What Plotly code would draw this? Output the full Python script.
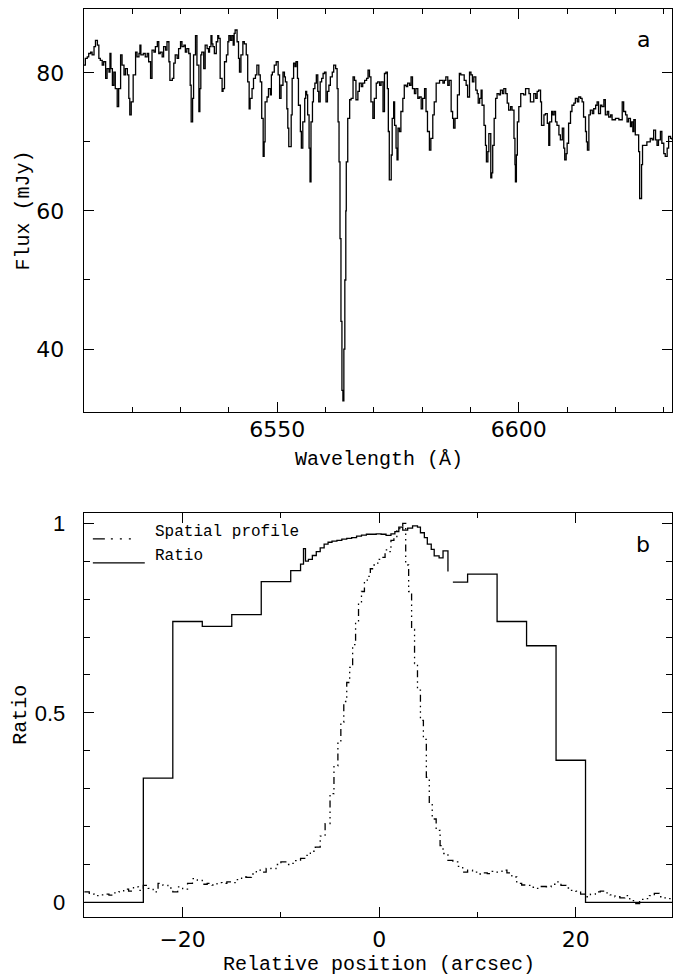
import plotly.graph_objects as go

# ---------------- Panel a: spectrum ----------------
wavelength = [
    6510.0, 6510.3, 6510.7, 6511.0, 6511.4, 6511.7, 6512.1, 6512.4, 6512.8, 6513.1,
    6513.4, 6513.8, 6514.1, 6514.5, 6514.8, 6515.2, 6515.4, 6515.6, 6515.9, 6516.2,
    6516.5, 6516.9, 6517.2, 6517.6, 6517.9, 6518.3, 6518.6, 6519.0, 6519.3, 6519.5,
    6519.8, 6520.2, 6520.7, 6521.0, 6521.4, 6521.6, 6521.8, 6522.3, 6522.7, 6523.1,
    6523.4, 6523.8, 6524.1, 6524.5, 6524.8, 6525.2, 6525.5, 6525.8, 6526.2, 6526.5,
    6526.9, 6527.2, 6527.6, 6527.8, 6528.3, 6528.6, 6528.9, 6529.3, 6529.6, 6530.0,
    6530.3, 6530.7, 6531.0, 6531.3, 6531.7, 6532.0, 6532.2, 6532.5, 6532.7, 6533.1,
    6533.4, 6533.8, 6534.0, 6534.2, 6534.4, 6534.8, 6535.1, 6535.5, 6535.8, 6536.0,
    6536.3, 6536.5, 6536.7, 6537.0, 6537.4, 6537.7, 6537.9, 6538.2, 6538.6, 6538.8,
    6539.1, 6539.5, 6539.8, 6540.0, 6540.3, 6540.6, 6540.9, 6541.1, 6541.3, 6541.7,
    6542.0, 6542.2, 6542.5, 6542.9, 6543.2, 6543.6, 6543.9, 6544.2, 6544.4, 6544.8,
    6545.1, 6545.5, 6545.8, 6546.2, 6546.5, 6546.8, 6547.1, 6547.3, 6547.5, 6547.9,
    6548.2, 6548.6, 6548.8, 6549.0, 6549.4, 6549.8, 6550.2, 6550.5,
    6550.8, 6551.2, 6551.5, 6551.7, 6552.0, 6552.2, 6552.4, 6552.7, 6552.9, 6553.1,
    6553.4, 6553.7, 6553.9, 6554.2, 6554.4, 6554.8, 6555.0, 6555.3, 6555.7, 6555.9,
    6556.1, 6556.3, 6556.6, 6556.8, 6557.0, 6557.3, 6557.5, 6557.8, 6558.1, 6558.4,
    6558.6, 6558.9, 6559.2, 6559.5, 6559.8, 6560.1, 6560.4, 6560.7, 6561.0, 6561.4,
    6561.7, 6562.1, 6562.4, 6562.6, 6562.8, 6563.0, 6563.2, 6563.4, 6563.6, 6563.8,
    6564.0, 6564.2, 6564.3, 6564.6, 6565.0, 6565.3, 6565.7, 6566.0, 6566.3, 6566.7,
    6567.0, 6567.4, 6567.7, 6568.1, 6568.5, 6568.8, 6569.1, 6569.4, 6569.8, 6570.1,
    6570.5, 6570.8, 6571.2, 6571.5, 6571.9, 6572.2, 6572.5, 6572.8, 6573.0, 6573.2,
    6573.6, 6573.8, 6574.1, 6574.3, 6574.6, 6574.8, 6575.0, 6575.3, 6575.6, 6576.0,
    6576.3, 6576.7, 6577.0, 6577.4, 6577.7, 6578.0, 6578.4, 6578.7, 6579.1, 6579.4,
    6579.8, 6580.1, 6580.5, 6580.8, 6581.1, 6581.5, 6581.8, 6582.2, 6582.5, 6582.9,
    6583.2, 6583.6, 6583.9, 6584.3, 6584.6, 6584.9, 6585.3, 6585.6, 6586.0, 6586.3,
    6586.5, 6586.8, 6587.3, 6587.7, 6588.0, 6588.4, 6588.7, 6589.1, 6589.4, 6589.8,
    6590.1, 6590.4,
    6590.7, 6591.1, 6591.4, 6591.6, 6591.9, 6592.2, 6592.4, 6592.8, 6593.1, 6593.3,
    6593.6, 6593.8, 6594.2, 6594.4, 6594.6, 6594.9, 6595.2, 6595.5, 6595.9, 6596.2,
    6596.6, 6596.9, 6597.3, 6597.6, 6597.9, 6598.3, 6598.6, 6599.0, 6599.2, 6599.3,
    6599.5, 6599.7, 6600.0, 6600.4, 6600.7, 6601.0, 6601.4, 6601.7, 6602.1, 6602.4,
    6602.8, 6603.1, 6603.5, 6603.8, 6604.1, 6604.5, 6604.7, 6605.0, 6605.2, 6605.5,
    6605.9, 6606.2, 6606.4, 6606.8, 6607.0, 6607.3, 6607.6, 6607.9, 6608.3, 6608.6,
    6609.0, 6609.3, 6609.5, 6609.8, 6610.0, 6610.3, 6610.7, 6611.0, 6611.4, 6611.7,
    6612.1, 6612.4, 6612.8, 6613.1, 6613.4, 6613.8, 6614.0, 6614.2, 6614.5, 6614.8,
    6615.2, 6615.5, 6615.9, 6616.2, 6616.5, 6616.9, 6617.2, 6617.6, 6617.9, 6618.3,
    6618.6, 6619.0, 6619.3, 6619.6, 6620.0, 6620.7, 6621.0, 6621.4, 6621.7, 6622.1,
    6622.4, 6622.7, 6623.1, 6623.3, 6623.6, 6623.8, 6624.1, 6624.5, 6624.8, 6625.0,
    6625.4, 6625.6, 6626.2, 6626.5, 6626.9, 6627.2, 6627.6, 6627.9, 6628.3, 6628.6,
    6628.9, 6629.3, 6629.6, 6630.0, 6630.3, 6630.7, 6631.0, 6631.4, 6631.7,
]
flux = [
    81.1, 82.1, 82.3, 82.8, 83.0, 82.6, 83.8, 84.7, 84.0, 82.1,
    81.8, 81.1, 81.6, 79.2, 80.6, 80.1, 82.8, 80.6, 78.2, 80.1,
    77.7, 75.1, 77.7, 82.6, 81.1, 79.7, 80.6, 79.7, 76.3, 73.9,
    75.8, 79.7, 83.0, 82.3, 82.8, 84.0, 82.6, 82.8, 82.3, 82.8,
    81.6, 79.2, 83.3, 83.0, 83.8, 84.5, 82.8, 83.0, 82.3, 83.8,
    83.3, 84.5, 81.6, 78.9, 79.2, 81.4, 82.6, 82.1, 83.5, 84.5,
    83.8, 84.0, 83.0, 83.5, 82.8, 78.2, 72.9, 76.3, 82.6, 85.4,
    81.1, 74.4, 77.7, 82.6, 83.0, 80.6, 84.0, 83.5, 83.0, 83.8,
    85.4, 84.2, 83.8, 82.8, 84.5, 85.4, 85.0, 79.2, 77.3, 77.7,
    81.6, 82.6, 84.5, 85.4, 84.7, 85.4, 84.0, 85.7, 86.2, 84.5,
    82.1, 80.1, 82.6, 84.5, 84.2, 82.6, 78.7, 74.8, 76.3, 77.7,
    79.2, 79.7, 81.1, 79.7, 78.7, 73.4, 67.9, 70.0, 75.8, 76.5,
    77.7, 76.8, 79.7, 80.1, 81.1, 81.6, 79.7, 76.3,
    78.2, 80.1, 79.4, 78.7, 74.8, 72.0, 69.3, 69.3, 73.9, 79.2,
    81.4, 80.9, 81.6, 79.2, 75.3, 71.5, 69.1, 72.9, 76.3, 77.3,
    76.8, 73.9, 69.1, 64.2, 72.9, 75.8, 77.7, 78.5, 79.7, 77.3,
    75.8, 78.7, 79.2, 79.9, 80.1, 75.8, 77.3, 78.2, 79.4, 80.1,
    81.1, 80.6, 77.7, 72.9, 67.1, 56.0, 44.0, 34.0, 32.5, 40.0,
    50.0, 60.0, 67.1, 73.4, 76.1, 76.3, 79.4, 78.9, 76.1, 77.3,
    78.5, 78.0, 78.5, 78.9, 79.2, 80.4, 79.4, 75.8, 73.4, 76.3,
    78.5, 78.7, 78.2, 78.7, 74.4, 79.9, 80.1, 77.7, 71.5, 64.5,
    68.1, 73.4, 75.8, 72.4, 69.1, 67.4, 72.0, 71.5, 74.4, 76.3,
    78.2, 78.0, 78.5, 78.2, 79.4, 77.7, 77.0, 77.7, 76.3, 76.5,
    74.8, 76.3, 77.7, 74.4, 71.5, 68.8, 70.5, 73.9, 75.8, 78.5,
    78.5, 78.9, 78.9, 78.5, 78.9, 79.4, 78.2, 78.9, 74.4, 73.4,
    72.0, 73.4, 76.8, 79.9, 79.7, 79.7, 78.9, 78.2, 76.5, 80.1,
    79.7, 78.7,
    79.4, 77.5, 77.0, 75.6, 76.3, 77.5, 75.3, 72.4, 69.5, 67.1,
    68.6, 71.2, 64.8, 65.5, 69.5, 73.4, 76.3, 77.0, 76.8, 77.5,
    77.0, 77.7, 77.0, 75.6, 74.6, 75.1, 74.6, 70.5, 66.7, 64.2,
    68.1, 72.9, 75.1, 77.0, 77.0, 76.8, 77.7, 77.7, 77.0, 75.8,
    75.8, 77.0, 76.3, 77.3, 77.5, 75.8, 72.4, 72.4, 73.9, 74.1,
    72.7, 69.5, 72.9, 74.4, 73.9, 74.4, 72.9, 72.4, 71.0, 70.3,
    72.0, 69.1, 67.4, 68.3, 69.8, 72.7, 74.4, 75.3, 75.6, 76.3,
    75.8, 76.5, 76.3, 75.8, 73.6, 71.5, 70.0, 68.8, 73.9, 74.6,
    74.1, 74.8, 75.3, 75.8, 74.1, 75.3, 75.1, 76.1, 73.9, 74.4,
    73.6, 73.9, 73.2, 73.2, 73.4, 73.2, 73.2, 75.8, 74.4, 73.9,
    72.9, 73.4, 72.2, 72.9, 71.5, 73.2, 71.0, 71.0, 68.6, 61.8,
    66.7, 69.5, 69.5, 70.0, 70.0, 70.5, 70.3, 71.7, 70.3, 69.5,
    70.3, 71.5, 69.8, 68.3, 67.9, 69.1, 70.8, 70.5, 70.3,
]

# ---------------- Panel b: spatial profile and ratio ----------------
profile_pos = [
    -30.0, -29.5, -29.0, -28.5, -28.0, -27.5, -27.0, -26.5, -26.0, -25.5,
    -25.0, -24.5, -24.0, -23.5, -23.0, -22.5, -22.0, -21.5, -21.0, -20.5,
    -20.0, -19.5, -19.0, -18.5, -18.0, -17.5, -17.0, -16.5, -16.0, -15.5,
    -15.0, -14.5, -14.0, -13.5, -13.0, -12.5, -12.0, -11.5, -11.0, -10.5,
    -10.0, -9.5, -9.0, -8.5, -8.0, -7.5, -7.0, -6.5, -6.0, -5.5,
    -5.0, -4.6, -4.2, -3.9, -3.6, -3.3, -3.0, -2.7, -2.4, -2.1,
    -1.8, -1.5, -1.2, -0.9, -0.6, -0.3, 0.0, 0.3, 0.6, 0.9,
    1.2, 1.5, 1.8, 2.1, 2.4, 2.7, 3.0, 3.3, 3.6, 3.9,
    4.2, 4.5, 4.8, 5.1, 5.4, 5.8, 6.2, 6.5, 7.0, 7.5,
    8.0, 8.5, 9.0, 9.5, 10.0, 10.5, 11.0, 11.5, 12.0, 12.5,
    13.0, 13.5, 14.0, 14.5, 15.0, 15.5, 16.0, 16.5, 17.0, 17.5,
    18.0, 18.5, 19.0, 19.5, 20.0, 20.5, 21.0, 21.5, 22.0, 22.5,
    23.0, 23.5, 24.0, 24.5, 25.0, 25.5, 26.0, 26.5, 27.0, 27.5,
    28.0, 28.5, 29.0, 29.5, 29.8,
]
profile = [
    0.028, 0.022, 0.018, 0.020, 0.022, 0.019, 0.025, 0.028, 0.035, 0.030,
    0.041, 0.032, 0.045, 0.037, 0.028, 0.050, 0.045, 0.038, 0.028, 0.041,
    0.035, 0.050, 0.063, 0.058, 0.048, 0.050, 0.046, 0.052, 0.050, 0.054,
    0.052, 0.060, 0.067, 0.066, 0.075, 0.085, 0.080, 0.090, 0.089, 0.100,
    0.107, 0.100, 0.103, 0.110, 0.116, 0.124, 0.135, 0.146, 0.175, 0.208,
    0.287, 0.360, 0.420, 0.475, 0.530, 0.580, 0.620, 0.680, 0.740, 0.790,
    0.820, 0.850, 0.860, 0.880, 0.890, 0.895, 0.905, 0.910, 0.930, 0.925,
    0.955, 0.965, 0.980, 0.990, 1.000, 0.890, 0.820, 0.720, 0.630, 0.560,
    0.480, 0.430, 0.330, 0.260, 0.220, 0.190, 0.150, 0.129, 0.111, 0.107,
    0.095, 0.080, 0.085, 0.080, 0.075, 0.078, 0.076, 0.082, 0.080, 0.085,
    0.078, 0.067, 0.050, 0.046, 0.045, 0.040, 0.037, 0.042, 0.041, 0.048,
    0.054, 0.045, 0.038, 0.032, 0.030, 0.022, 0.015, 0.022, 0.028, 0.030,
    0.025, 0.020, 0.015, 0.012, 0.018, 0.005, -0.003, 0.008, 0.010, 0.018,
    0.024, 0.015, 0.012, 0.010, 0.010,
]

ratio_pos = [
    -30.0, -24.0, -21.0, -18.0, -15.0, -12.0, -9.0, -8.0, -7.7, -7.5,
    -7.2, -6.8, -6.4, -6.0, -5.6, -5.2, -4.8, -4.3, -3.8, -3.3,
    -2.8, -2.3, -1.8, -1.3, -0.8, -0.3, 0.2, 0.7, 1.2, 1.6,
    2.0, 2.4, 2.9, 3.4, 3.9, 4.2, 4.6, 4.9, 5.3, 5.6,
    6.1, 6.5, 7.0, None, 7.5, 9.0, 12.0, 15.0, 18.0, 21.0, 29.8,
]
ratio = [
    0.0, 0.328, 0.741, 0.728, 0.759, 0.846, 0.875, 0.892, 0.933, 0.900,
    0.905, 0.915, 0.925, 0.935, 0.945, 0.950, 0.953, 0.955, 0.958, 0.960,
    0.962, 0.966, 0.969, 0.971, 0.971, 0.972, 0.971, 0.968, 0.972, 0.978,
    0.990, 0.982, 0.987, 0.993, 0.990, 0.975, 0.962, 0.945, 0.931, 0.914,
    0.909, 0.927, 0.873, None, 0.845, 0.866, 0.741, 0.677, 0.375, 0.0, 0.0,
]

# ---------------- figure ----------------
W, H = 673, 980
LEFT = 84
A_TOP, A_BOT = 7.3, 410.7
B_TOP, B_BOT = 511.7, 916.7
MONO = "Liberation Mono"
SANS = "DejaVu Sans"
SANS_NARROW = "Liberation Sans"


def px(x):
    return x / W


def py(y):
    return 1 - y / H


fig = go.Figure()
fig.add_trace(go.Scatter(
    x=wavelength, y=flux, mode="lines", showlegend=False,
    line=dict(color="black", width=1.3, shape="hv"),
    xaxis="x", yaxis="y"))
fig.add_trace(go.Scatter(
    x=profile_pos, y=profile, mode="lines", showlegend=False,
    line=dict(color="black", width=1.3, shape="hv",
              dash="7px,4px,1.5px,4px,1.5px,4px,1.5px,4px"),
    xaxis="x2", yaxis="y2"))
fig.add_trace(go.Scatter(
    x=ratio_pos, y=ratio, mode="lines", showlegend=False, connectgaps=False,
    line=dict(color="black", width=1.3, shape="hv"),
    xaxis="x2", yaxis="y2"))


def main_axis(family=SANS, **kw):
    d = dict(showline=True, linecolor="black", linewidth=1.3, mirror="ticks",
             ticks="inside", ticklen=10, tickwidth=1.2, tickcolor="black",
             showgrid=False, zeroline=False, tickmode="linear",
             tickfont=dict(family=family, size=22, color="black"))
    d.update(kw)
    return d


def outer_ticks(**kw):
    d = dict(showline=False, showgrid=False, zeroline=False, ticks="outside",
             ticklen=6, tickwidth=1.2, tickcolor="black", showticklabels=False,
             tickmode="linear")
    d.update(kw)
    return d


xa_dom = [px(LEFT), 1.0]
a_dom = [py(A_BOT), py(A_TOP)]
b_dom = [py(B_BOT), py(B_TOP)]
xa_range = [6510, 6631.7]
ya_range = [30.9, 89.2]
xb_range = [-30.05, 29.8]
yb_range = [-0.038, 1.028]

fig.update_layout(
    width=W, height=H, margin=dict(l=0, r=0, t=0, b=0),
    paper_bgcolor="white", plot_bgcolor="white", showlegend=False,
    xaxis=main_axis(domain=xa_dom, anchor="y", range=xa_range, tick0=6500, dtick=50,
                    ticklabelstandoff=-2,
                    minor=dict(ticks="inside", ticklen=5, tickwidth=1, tickcolor="black",
                               tick0=6500, dtick=10, showgrid=False)),
    yaxis=main_axis(domain=a_dom, anchor="x", range=ya_range, tick0=0, dtick=20,
                    ticklabelstandoff=14,
                    minor=dict(ticks="inside", ticklen=6, tickwidth=1, tickcolor="black",
                               tick0=0, dtick=10, showgrid=False)),
    xaxis2=main_axis(domain=xa_dom, anchor="y2", range=xb_range, tick0=0, dtick=20,
                     ticklabelstandoff=3,
                     minor=dict(ticks="inside", ticklen=5, tickwidth=1, tickcolor="black",
                                tick0=0, dtick=10, showgrid=False)),
    yaxis2=main_axis(family=SANS_NARROW, domain=b_dom, anchor="x2", range=yb_range,
                     tick0=0, dtick=0.5, ticklabelstandoff=13,
                     minor=dict(ticks="inside", ticklen=6, tickwidth=1, tickcolor="black",
                                tick0=0, dtick=0.1, showgrid=False)),
    xaxis3=outer_ticks(overlaying="x", anchor="y", side="bottom", range=xa_range,
                       tick0=6500, dtick=50),
    yaxis3=outer_ticks(overlaying="y", anchor="x", side="left", range=ya_range,
                       tick0=0, dtick=20),
    xaxis4=outer_ticks(overlaying="x2", anchor="y2", side="bottom", range=xb_range,
                       tick0=0, dtick=20),
    yaxis4=outer_ticks(overlaying="y2", anchor="x2", side="left", range=yb_range,
                       tick0=0, dtick=0.5),
)

ann = []


def add_text(text, x, y, size, family, angle=0, xanchor="center"):
    ann.append(dict(text=text, x=px(x), y=py(y), xref="paper", yref="paper",
                    showarrow=False, textangle=angle, xanchor=xanchor, yanchor="middle",
                    font=dict(family=family, size=size, color="black")))


add_text("Flux (mJy)", 24, (A_TOP + A_BOT) / 2, 20, MONO, angle=-90)
add_text("Wavelength (Å)", 380, 458, 20, MONO)
add_text("Ratio", 21, (B_TOP + B_BOT) / 2, 20, MONO, angle=-90)
add_text("Relative position (arcsec)", 380, 964, 20, MONO)
add_text("a", 644, 38, 22, SANS)
add_text("b", 644, 544, 22, SANS)
add_text("Spatial profile", 153, 531, 16, MONO, xanchor="left")
add_text("Ratio", 153, 555, 16, MONO, xanchor="left")
fig.update_layout(annotations=ann)

fig.update_layout(shapes=[
    dict(type="line", xref="paper", yref="paper", x0=px(93), x1=px(137),
         y0=py(538), y1=py(538),
         line=dict(color="black", width=1.3, dash="12px,6px,2px,7px,2px,7px,2px,6px")),
    dict(type="line", xref="paper", yref="paper", x0=px(93), x1=px(145),
         y0=py(562), y1=py(562), line=dict(color="black", width=1.3)),
])

fig.write_html("out.html")
